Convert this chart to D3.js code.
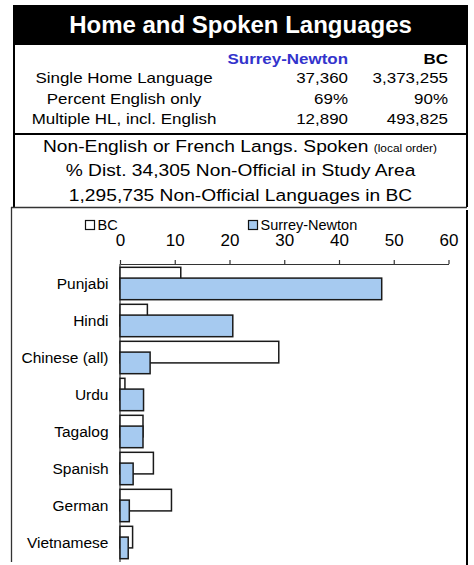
<!DOCTYPE html>
<html>
<head>
<meta charset="utf-8">
<script src="https://cdn.jsdelivr.net/npm/d3@7"></script>
<style>
  html, body { margin: 0; padding: 0; background: #fff; }
  svg { display: block; }
  text { font-family: "Liberation Sans", Arial, sans-serif; }
</style>
</head>
<body>
<svg id="chart" width="474" height="565"></svg>
<script>
// ---- data ----
const title = "Home and Spoken Languages";
const tableHeaders = ["Surrey-Newton", "BC"];
const tableLabels = ["Single Home Language", "Percent English only", "Multiple HL, incl. English"];
const snStats = ["37,360", "69%", "12,890"];
const bcStats = ["3,373,255", "90%", "493,825"];
const subtitleLines = ["Non-English or French Langs. Spoken", "% Dist. 34,305 Non-Official in Study Area", "1,295,735 Non-Official Languages in BC"];
const subtitleNote = "(local order)";

const categories = ["Punjabi", "Hindi", "Chinese (all)", "Urdu", "Tagalog", "Spanish", "German", "Vietnamese"];
const bcValues = [11.1, 5.0, 29.0, 0.9, 4.2, 6.1, 9.4, 2.3];
const snValues = [47.8, 20.6, 5.5, 4.3, 4.2, 2.4, 1.7, 1.5];
const seriesNames = ["BC", "Surrey-Newton"];
const tickValues = [0, 10, 20, 30, 40, 50, 60];

// ---- drawing ----
const svg = d3.select("#chart");
const SX = 1.13; // horizontal stretch of the original text

function txt(parent, x, y, s, o = {}) {
  const g = parent.append("g").attr("transform", `translate(${x},${y}) scale(${o.sx || 1},1)`);
  const t = g.append("text")
    .attr("text-anchor", o.anchor || "start")
    .attr("font-size", o.size || 15)
    .attr("font-weight", o.weight || "normal")
    .attr("fill", o.fill || "#000")
    .text(s);
  return t;
}

// title bar
svg.append("rect").attr("x", 13).attr("y", 5).attr("width", 455).attr("height", 40).attr("fill", "#000");
txt(svg, 240.5, 33, title, { anchor: "middle", size: 24, weight: "bold", fill: "#fff" });

// table box borders
svg.append("line").attr("x1", 14).attr("x2", 14).attr("y1", 5).attr("y2", 207).attr("stroke", "#000").attr("stroke-width", 2);
svg.append("line").attr("x1", 467).attr("x2", 467).attr("y1", 5).attr("y2", 207).attr("stroke", "#000").attr("stroke-width", 2);
svg.append("line").attr("x1", 13).attr("x2", 468).attr("y1", 134).attr("y2", 134).attr("stroke", "#000").attr("stroke-width", 2);

// table
txt(svg, 348, 64, tableHeaders[0], { anchor: "end", size: 15, weight: "bold", fill: "#3333cc", sx: SX });
txt(svg, 448, 64, tableHeaders[1], { anchor: "end", size: 15, weight: "bold", sx: SX });
const rowY = [83, 103.5, 124];
tableLabels.forEach((l, i) => {
  txt(svg, 124, rowY[i], l, { anchor: "middle", size: 15, sx: SX });
  txt(svg, 348, rowY[i], snStats[i], { anchor: "end", size: 15, sx: SX });
  txt(svg, 448, rowY[i], bcStats[i], { anchor: "end", size: 15, sx: SX });
});

// subtitle block
const subY = [152, 176, 200.5];
{
  const g = svg.append("g").attr("transform", `translate(240,${subY[0]}) scale(${SX},1)`);
  const t = g.append("text").attr("text-anchor", "middle").attr("font-size", 17);
  t.append("tspan").text(subtitleLines[0] + " ");
  t.append("tspan").attr("font-size", 10.5).text(subtitleNote);
}
txt(svg, 240.5, subY[1], subtitleLines[1], { anchor: "middle", size: 17, sx: SX });
txt(svg, 240.5, subY[2], subtitleLines[2], { anchor: "middle", size: 17, sx: SX });

// chart frame
svg.append("line").attr("x1", 11).attr("x2", 467).attr("y1", 207.5).attr("y2", 207.5).attr("stroke", "#333").attr("stroke-width", 1.3);
svg.append("line").attr("x1", 11.5).attr("x2", 11.5).attr("y1", 207).attr("y2", 562).attr("stroke", "#333").attr("stroke-width", 1.3);
svg.append("line").attr("x1", 467).attr("x2", 467).attr("y1", 210).attr("y2", 565).attr("stroke", "#000").attr("stroke-width", 2);

// scales
const x = d3.scaleLinear().domain([0, 60]).range([120, 448.5]);
const y = d3.scaleBand().domain(categories).range([265, 561]).paddingInner(0.125).paddingOuter(0.0625);
const bh = y.bandwidth() * 2 / 3;   // each bar; bars overlap by half
const axisY = 264;

// legend
const legend = [
  { name: seriesNames[0], fill: "#fff", x: 85 },
  { name: seriesNames[1], fill: "#a6caf0", x: 248 }
];
legend.forEach(d => {
  svg.append("rect").attr("x", d.x + 0.5).attr("y", 220.5).attr("width", 9).attr("height", 9)
    .attr("fill", d.fill).attr("stroke", "#111").attr("stroke-width", 1.2);
  txt(svg, d.x + 12.5, 229.5, d.name, { size: 14.5 });
});

// axis
const axis = d3.axisTop(x).tickValues(tickValues).tickSize(4).tickSizeOuter(0).tickPadding(14).tickFormat(d3.format("d"));
const ag = svg.append("g").attr("transform", `translate(0,${axisY})`).call(axis);
ag.select(".domain").attr("stroke", "#333").attr("stroke-width", 1.2);
ag.selectAll(".tick line").attr("stroke", "#333").attr("stroke-width", 1.2);
ag.selectAll(".tick text").attr("font-size", 17).attr("fill", "#000")
  .attr("font-family", "Liberation Sans, Arial, sans-serif");
// vertical axis line
svg.append("line").attr("x1", x(0)).attr("x2", x(0)).attr("y1", axisY).attr("y2", 562)
  .attr("stroke", "#333").attr("stroke-width", 1.2);

// bars
const barG = svg.append("g");
barG.selectAll("rect.bc").data(categories).join("rect").attr("class", "bc")
  .attr("x", x(0)).attr("y", c => y(c))
  .attr("width", (c, i) => x(bcValues[i]) - x(0)).attr("height", bh)
  .attr("fill", "#fff").attr("stroke", "#1a1a1a").attr("stroke-width", 1.5);
barG.selectAll("rect.sn").data(categories).join("rect").attr("class", "sn")
  .attr("x", x(0)).attr("y", c => y(c) + y.bandwidth() / 3)
  .attr("width", (c, i) => x(snValues[i]) - x(0)).attr("height", bh)
  .attr("fill", "#a6caf0").attr("stroke", "#1a1a1a").attr("stroke-width", 1.5);

// category labels
categories.forEach(c => {
  txt(svg, 108.5, y(c) + y.bandwidth() / 2 + 5.5, c, { anchor: "end", size: 15.5 });
});
</script>
</body>
</html>
